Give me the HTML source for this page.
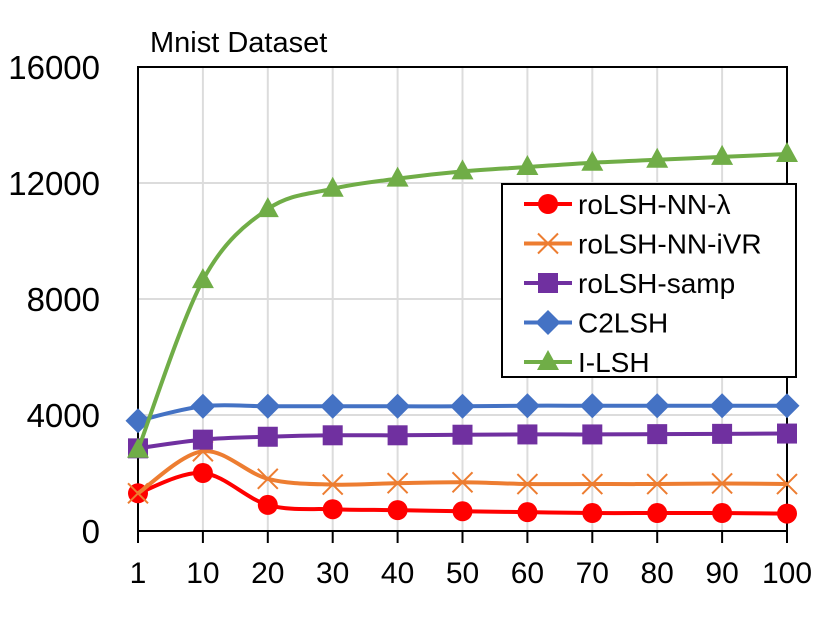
<!DOCTYPE html>
<html><head><meta charset="utf-8"><style>
body{margin:0;background:#fff;}
svg text{font-family:"Liberation Sans","DejaVu Sans",sans-serif;}
</style></head><body>
<svg id="c" width="831" height="630" xmlns="http://www.w3.org/2000/svg"></svg>
<script>
const categories=["1","10","20","30","40","50","60","70","80","90","100"];
const yTicks=[0,4000,8000,12000,16000];
const seriesNames=["roLSH-NN-λ","roLSH-NN-iVR","roLSH-samp","C2LSH","I-LSH"];
const lambdaVals=[1300,2000,900,750,720,680,650,620,620,620,600];
const ivrVals=[1300,2750,1800,1600,1650,1680,1620,1620,1620,1640,1620];
const sampVals=[2850,3150,3250,3300,3300,3320,3330,3330,3340,3350,3360];
const c2Vals=[3800,4300,4300,4300,4300,4300,4320,4320,4320,4320,4320];
const ilshVals=[2800,8650,11100,11800,12150,12400,12550,12700,12800,12900,13000];
const colors=["#ff0000","#ed7d31","#7030a0","#4472c4","#70ad47"];
const markers=["circle","x","square","diamond","triangle"];
const allVals=[lambdaVals,ivrVals,sampVals,c2Vals,ilshVals];

const L=138,R=787,T=67,B=531,YMAX=16000;
const xs=i=>L+i*(R-L)/(categories.length-1);
const ys=v=>B-v/YMAX*(B-T);
const svg=document.getElementById('c');
const NS="http://www.w3.org/2000/svg";
function mk(tag,attrs,parent){const e=document.createElementNS(NS,tag);for(const k in attrs)e.setAttribute(k,attrs[k]);(parent||svg).appendChild(e);return e;}

yTicks.forEach(v=>{if(v>0){const g=mk('line',{x1:L,x2:R,y1:ys(v),y2:ys(v),stroke:'#dcdcdc','stroke-width':2});

}});
categories.forEach((c,i)=>{if(i>0&&i<categories.length-1){const g=mk('line',{x1:xs(i),x2:xs(i),y1:T,y2:B,stroke:'#dcdcdc','stroke-width':2});

}});
const fr=mk('rect',{x:L,y:T,width:R-L,height:B-T,fill:'none',stroke:'#000','stroke-width':2});


categories.forEach((c,i)=>{
 const t=mk('line',{x1:xs(i),x2:xs(i),y1:B,y2:B+12,stroke:'#000','stroke-width':2});
 
 
 const tx=mk('text',{x:xs(i),y:B+52,'text-anchor':'middle','font-size':30});
 tx.textContent=c;
 
 
});
yTicks.forEach(v=>{
 const tx=mk('text',{x:100,y:ys(v)+12,'text-anchor':'end','font-size':33});
 tx.textContent=v;
 
 
});
const title=mk('text',{x:150,y:52,'font-size':29});
title.textContent="Mnist Dataset";



function smooth(pts){let d=`M${pts[0][0]},${pts[0][1]}`;
 for(let i=0;i<pts.length-1;i++){const p0=pts[i-1]||pts[i],p1=pts[i],p2=pts[i+1],p3=pts[i+2]||p2;
  const c1=[p1[0]+(p2[0]-p0[0])/6,p1[1]+(p2[1]-p0[1])/6],c2=[p2[0]-(p3[0]-p1[0])/6,p2[1]-(p3[1]-p1[1])/6];
  d+=` C${c1[0]},${c1[1]} ${c2[0]},${c2[1]} ${p2[0]},${p2[1]}`;}
 return d;}
function marker(g,type,x,y,col,s){
 if(type==='circle')return mk('circle',{cx:x,cy:y,r:s,fill:col},g);
 if(type==='square')return mk('rect',{x:x-s,y:y-s,width:2*s,height:2*s,fill:col},g);
 if(type==='diamond')return mk('polygon',{points:`${x},${y-s*1.25} ${x+s*1.25},${y} ${x},${y+s*1.25} ${x-s*1.25},${y}`,fill:col},g);
 if(type==='triangle')return mk('polygon',{points:`${x},${y-s*1.2} ${x+s*1.1},${y+s*0.8} ${x-s*1.1},${y+s*0.8}`,fill:col},g);
 return mk('path',{d:`M${x-s},${y-s}L${x+s},${y+s}M${x-s},${y+s}L${x+s},${y-s}`,stroke:col,'stroke-width':2,fill:'none'},g);
}
allVals.forEach((vals,si)=>{
 const g=mk('g',{});
 
 
 const pts=vals.map((v,i)=>[xs(i),ys(v)]);
 const p=mk('path',{d:smooth(pts),fill:'none',stroke:colors[si],'stroke-width':4},g);
 
 
 pts.forEach(pt=>{const m=marker(g,markers[si],pt[0],pt[1],colors[si],10);
  
  });
});
const lg=mk('g',{});


mk('rect',{x:502,y:184,width:294,height:193,fill:'#fff',stroke:'#000','stroke-width':2},lg);
seriesNames.forEach((n,i)=>{
 const e=mk('g',{},lg);
 
 
 const y=204+i*39.5;
 mk('line',{x1:524,x2:572,y1:y,y2:y,stroke:colors[i],'stroke-width':4},e);
 marker(e,markers[i],548,y,colors[i],10);
 const t=mk('text',{x:578,y:y+10,'font-size':28},e);
 t.textContent=n;
});
</script>
</body></html>
